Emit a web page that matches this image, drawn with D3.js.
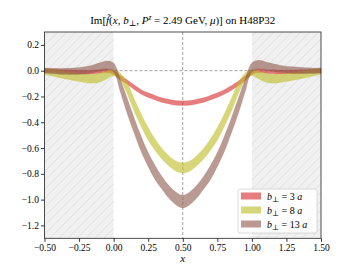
<!DOCTYPE html>
<html>
<head>
<meta charset="utf-8">
<script src="https://cdn.jsdelivr.net/npm/d3@7"></script>
<style>
  body { margin: 0; background: #fff; }
  svg { font-family: "Liberation Serif", "DejaVu Serif", serif; }
</style>
</head>
<body>
<script>
// x grid of the bands
xs = [-0.5, -0.4, -0.3, -0.2, -0.15, -0.1, -0.05, 0,
      0.05, 0.1, 0.15, 0.2, 0.25, 0.3, 0.35, 0.4, 0.45, 0.5, 0.55, 0.6, 0.65, 0.7, 0.75, 0.8, 0.85, 0.9, 0.95,
      1.0, 1.05, 1.1, 1.15, 1.2, 1.3, 1.4, 1.5]

// b = 3a
red_mid = [0.0, -0.005, -0.01, -0.012, -0.01, -0.005, 0.0, -0.015,
           -0.055, -0.09, -0.13, -0.165, -0.19, -0.21, -0.228, -0.24, -0.25, -0.252, -0.25, -0.24, -0.228, -0.21, -0.19, -0.165, -0.135, -0.1, -0.06,
           -0.015, 0.0, -0.005, -0.008, -0.01, -0.01, -0.005, 0.0]
red_err = [0.015, 0.015, 0.015, 0.015, 0.015, 0.015, 0.015, 0.015,
           0.018, 0.018, 0.018, 0.018, 0.018, 0.018, 0.018, 0.018, 0.018, 0.018, 0.018, 0.018, 0.018, 0.018, 0.018, 0.018, 0.018, 0.018, 0.018,
           0.015, 0.015, 0.015, 0.015, 0.015, 0.015, 0.015, 0.015]

// b = 8a
yel_mid = [-0.005, -0.025, -0.045, -0.06, -0.062, -0.055, -0.035, -0.015,
           -0.05, -0.14, -0.27, -0.385, -0.49, -0.575, -0.645, -0.7, -0.74, -0.755, -0.74, -0.7, -0.645, -0.575, -0.49, -0.385, -0.27, -0.14, -0.05,
           -0.015, -0.035, -0.055, -0.062, -0.06, -0.045, -0.025, -0.005]
yel_err = [0.025, 0.028, 0.03, 0.033, 0.035, 0.035, 0.03, 0.025,
           0.03, 0.045, 0.05, 0.05, 0.05, 0.045, 0.042, 0.04, 0.04, 0.04, 0.04, 0.04, 0.042, 0.045, 0.05, 0.05, 0.05, 0.045, 0.03,
           0.025, 0.03, 0.035, 0.035, 0.033, 0.03, 0.028, 0.025]

// b = 13a
brn_mid = [0.0, -0.005, -0.005, 0.005, 0.015, 0.028, 0.04, 0.025,
           -0.12, -0.28, -0.43, -0.57, -0.69, -0.79, -0.87, -0.94, -0.99, -1.015, -0.99, -0.94, -0.87, -0.79, -0.69, -0.57, -0.43, -0.28, -0.12,
           0.025, 0.045, 0.035, 0.025, 0.015, 0.005, 0.0, 0.0]
brn_err = [0.02, 0.022, 0.025, 0.028, 0.03, 0.033, 0.035, 0.035,
           0.05, 0.06, 0.06, 0.06, 0.055, 0.055, 0.05, 0.05, 0.05, 0.05, 0.05, 0.05, 0.05, 0.055, 0.055, 0.06, 0.06, 0.06, 0.05,
           0.035, 0.035, 0.033, 0.03, 0.028, 0.025, 0.022, 0.02]

series_b = [3, 8, 13]
series_mid = [red_mid, yel_mid, brn_mid]
series_err = [red_err, yel_err, brn_err]
series_col = ["#d62728", "#bcbd22", "#8c564b"]

x_ticks = [-0.5, -0.25, 0, 0.25, 0.5, 0.75, 1.0, 1.25, 1.5]
y_ticks = [0.2, 0.0, -0.2, -0.4, -0.6, -0.8, -1.0, -1.2]
shaded = [[-0.5, 0], [1, 1.5]]

var W = 357, H = 268
var L = 44.5, R = 321, T = 32, B = 238.3

var svg = d3.select("body").append("svg").attr("width", W).attr("height", H)

var x = d3.scaleLinear().domain([-0.5, 1.5]).range([L, R])
var y = d3.scaleLinear().domain([-1.3, 0.3]).range([B, T])

// hatch pattern for the unphysical regions
var pat = svg.append("defs").append("pattern")
    .attr("id", "hatch").attr("patternUnits", "userSpaceOnUse")
    .attr("width", 9).attr("height", 9)
pat.append("rect").attr("width", 9).attr("height", 9).attr("fill", "#f0f0f0")
pat.append("path").attr("d", "M0,9 L9,0 M-2,2 L2,-2 M7,11 L11,7")
    .attr("stroke", "#dddddd").attr("stroke-width", 0.8)

svg.selectAll(".shade").data(shaded).enter().append("rect")
    .attr("x", d => x(d[0])).attr("y", T)
    .attr("width", d => x(d[1]) - x(d[0])).attr("height", B - T)
    .attr("fill", "url(#hatch)")

// reference lines
svg.append("line").attr("x1", L).attr("x2", R).attr("y1", y(0)).attr("y2", y(0))
    .attr("stroke", "#999").attr("stroke-width", 0.9).attr("stroke-dasharray", "3,2")
svg.append("line").attr("x1", x(0.5)).attr("x2", x(0.5)).attr("y1", T).attr("y2", B)
    .attr("stroke", "#999").attr("stroke-width", 0.9).attr("stroke-dasharray", "3,2")

// bands
var area = d3.area()
    .x(d => x(d.x)).y0(d => y(d.m - d.e)).y1(d => y(d.m + d.e))
    .curve(d3.curveCatmullRom)

for (var s = 0; s < 3; s++) {
    var pts = xs.map((v, i) => ({ x: v, m: series_mid[s][i], e: series_err[s][i] }))
    svg.append("path").datum(pts).attr("d", area)
        .attr("fill", series_col[s]).attr("fill-opacity", 0.6)
        .attr("stroke", series_col[s]).attr("stroke-opacity", 0.3).attr("stroke-width", 0.5)
}

// axes
var fmtX = d => d3.format(".2f")(d).replace("-", "\u2212")
var fmtY = d => d3.format(".1f")(d).replace("-", "\u2212")
var gx = svg.append("g").attr("transform", "translate(0," + B + ")")
    .call(d3.axisBottom(x).tickValues(x_ticks).tickFormat(fmtX).tickSize(3.5).tickPadding(2))
var gy = svg.append("g").attr("transform", "translate(" + L + ",0)")
    .call(d3.axisLeft(y).tickValues(y_ticks).tickFormat(fmtY).tickSize(3.5).tickPadding(2))
svg.selectAll(".domain").remove()
svg.selectAll(".tick text").attr("font-size", 9.5).attr("font-family", "Liberation Serif").attr("fill", "#000")
svg.selectAll(".tick line").attr("stroke", "#000").attr("stroke-width", 0.8)

// frame
svg.append("rect").attr("x", L).attr("y", T).attr("width", R - L).attr("height", B - T)
    .attr("fill", "none").attr("stroke", "#222").attr("stroke-width", 0.8)

// title
var title = svg.append("text").attr("x", (L + R) / 2).attr("y", 24)
    .attr("text-anchor", "middle").attr("font-size", 11)
title.append("tspan").text("Im[")
title.append("tspan").attr("font-style", "italic").text("f\u0303")
title.append("tspan").text("(")
title.append("tspan").attr("font-style", "italic").text("x")
title.append("tspan").text(", ")
title.append("tspan").attr("font-style", "italic").text("b")
title.append("tspan").attr("font-size", 8).attr("dy", 2).text("\u22a5")
title.append("tspan").attr("dy", -2).text(", ")
title.append("tspan").attr("font-style", "italic").text("P")
title.append("tspan").attr("font-style", "italic").attr("font-size", 7.5).attr("dy", -4).text("z")
title.append("tspan").attr("dy", 4).text(" = 2.49 GeV, ")
title.append("tspan").attr("font-style", "italic").text("\u03bc")
title.append("tspan").text(")] on H48P32")

// x label
svg.append("text").attr("x", x(0.5)).attr("y", 262).attr("text-anchor", "middle")
    .attr("font-size", 11).attr("font-style", "italic").text("x")

// legend
var lg = svg.append("g")
lg.append("rect").attr("x", 238).attr("y", 189).attr("width", 79).attr("height", 44).attr("rx", 2)
    .attr("fill", "#fff").attr("fill-opacity", 0.85).attr("stroke", "#d0d0d0").attr("stroke-width", 0.8)
for (var k = 0; k < 3; k++) {
    var yy = 196 + k * 14
    lg.append("rect").attr("x", 241).attr("y", yy - 3.5).attr("width", 20).attr("height", 7)
        .attr("fill", series_col[k]).attr("fill-opacity", 0.6)
    var t = lg.append("text").attr("x", 267).attr("y", yy + 3.5).attr("font-size", 10)
    t.append("tspan").attr("font-style", "italic").text("b")
    t.append("tspan").attr("font-size", 7.5).attr("dy", 2).text("\u22a5")
    t.append("tspan").attr("dy", -2).text(" = " + series_b[k] + " ")
    t.append("tspan").attr("font-style", "italic").text("a")
}
</script>
</body>
</html>
